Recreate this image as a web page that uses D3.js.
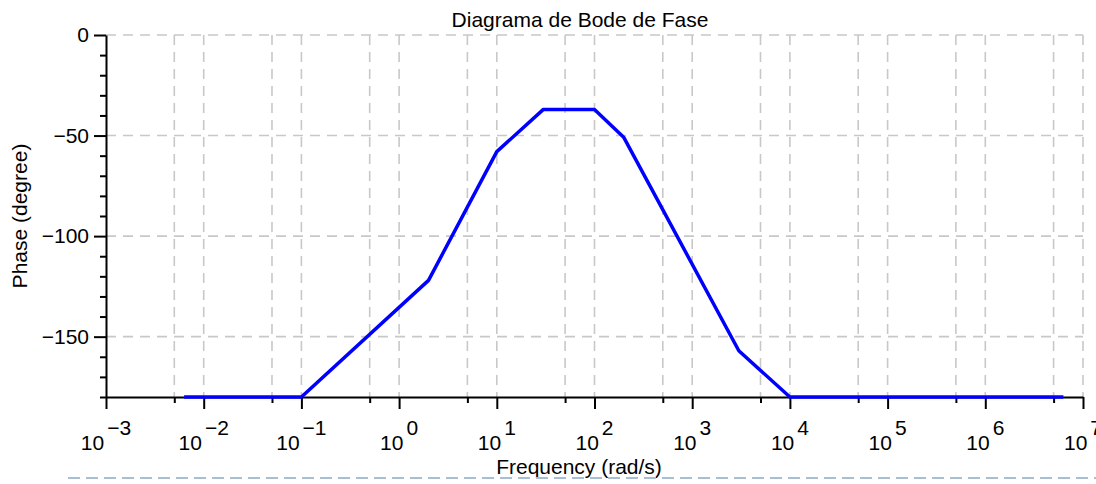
<!DOCTYPE html>
<html>
<head>
<meta charset="utf-8">
<script src="https://cdn.jsdelivr.net/npm/d3@7"></script>
<style>
  body { margin: 0; background: #fff; }
  text { font-family: "Liberation Sans", Arial, sans-serif; fill: #000; }
  .grid line { stroke: #c8c8c8; stroke-width: 1.6; stroke-dasharray: 10,7; }
  .axis path, .axis line { stroke: #000; stroke-width: 2; }
</style>
</head>
<body>
<div id="chart-area"></div>
<script>
// Phase curve (asymptotic Bode phase)
var freq  = [0.0063, 0.1, 2, 10, 30, 100, 200, 3000, 10000, 6.3e6];
var phase = [-180, -180, -122, -58, -37, -37, -51, -157, -180, -180];

// Tick values
var decades = [1e-3, 1e-2, 1e-1, 1e0, 1e1, 1e2, 1e3, 1e4, 1e5, 1e6, 1e7];
var exponents = [-3, -2, -1, 0, 1, 2, 3, 4, 5, 6, 7];
var halfDecades = [5e-3, 5e-2, 5e-1, 5e0, 5e1, 5e2, 5e3, 5e4, 5e5, 5e6];
var yMajor = [0, -50, -100, -150];
var yMinor = [-10, -20, -30, -40, -60, -70, -80, -90, -110, -120, -130, -140, -160, -170, -180];

var W = 1096, H = 484;
var plotL = 106, plotR = 1083, plotT = 35, plotB = 397;

var svg = d3.select("#chart-area")
    .append("svg")
    .attr("width", W)
    .attr("height", H);

var x = d3.scaleLog().domain([1e-3, 1e7]).range([plotL, plotR]);
var y = d3.scaleLinear().domain([-180, 0]).range([plotB, plotT]);

// Grid
var grid = svg.append("g").attr("class", "grid");
grid.selectAll(".vg")
    .data(decades.slice(1).concat(halfDecades))
    .enter().append("line")
    .attr("x1", d => x(d)).attr("x2", d => x(d))
    .attr("y1", plotT).attr("y2", plotB);
grid.selectAll(".hg")
    .data(yMajor)
    .enter().append("line")
    .attr("x1", plotL).attr("x2", plotR)
    .attr("y1", d => y(d)).attr("y2", d => y(d));

// X axis: major and minor ticks
svg.append("g")
    .attr("class", "axis")
    .attr("transform", "translate(0," + plotB + ")")
    .call(d3.axisBottom(x).tickValues(decades).tickSize(12).tickSizeOuter(0).tickFormat(""));
svg.append("g")
    .attr("class", "axis")
    .attr("transform", "translate(0," + plotB + ")")
    .call(d3.axisBottom(x).tickValues(halfDecades).tickSize(6).tickSizeOuter(0).tickFormat(""))
    .select(".domain").remove();

// Y axis
svg.append("g")
    .attr("class", "axis")
    .attr("transform", "translate(" + plotL + ",0)")
    .call(d3.axisLeft(y).tickValues(yMajor).tickSize(12).tickSizeOuter(0).tickFormat(""));
svg.append("g")
    .attr("class", "axis")
    .attr("transform", "translate(" + plotL + ",0)")
    .call(d3.axisLeft(y).tickValues(yMinor).tickSize(6).tickSizeOuter(0).tickFormat(""))
    .select(".domain").remove();

// Y tick labels
svg.selectAll(".ylab")
    .data(yMajor)
    .enter().append("text")
    .attr("x", plotL - 17)
    .attr("y", d => y(d))
    .attr("dy", "0.35em")
    .attr("text-anchor", "end")
    .style("font-size", "21px")
    .text(d => d === 0 ? "0" : "\u2212" + Math.abs(d));

// X tick labels: 10 with superscript exponent
var xl = svg.selectAll(".xlab")
    .data(decades)
    .enter().append("text")
    .attr("x", d => x(d))
    .attr("y", 450)
    .attr("text-anchor", "middle")
    .style("font-size", "21px");
xl.append("tspan").text("10");
xl.append("tspan")
    .attr("dx", 3)
    .attr("dy", -15)
    .text((d, i) => exponents[i] < 0 ? "\u2212" + Math.abs(exponents[i]) : exponents[i]);

// Phase curve
var line = d3.line()
    .x((d, i) => x(freq[i]))
    .y((d, i) => y(phase[i]));
svg.append("path")
    .datum(freq)
    .attr("d", line)
    .attr("fill", "none")
    .attr("stroke", "#0000ff")
    .attr("stroke-width", 3.5)
    .attr("stroke-linejoin", "round");

// Title and axis labels
svg.append("text")
    .attr("x", 580)
    .attr("y", 27)
    .attr("text-anchor", "middle")
    .style("font-size", "21px")
    .text("Diagrama de Bode de Fase");

svg.append("text")
    .attr("x", 579)
    .attr("y", 474)
    .attr("text-anchor", "middle")
    .style("font-size", "21px")
    .text("Frequency (rad/s)");

svg.append("text")
    .attr("transform", "rotate(-90)")
    .attr("x", -216)
    .attr("y", 27)
    .attr("text-anchor", "middle")
    .style("font-size", "21px")
    .text("Phase (degree)");

// Page separator below the figure
svg.append("line")
    .attr("x1", 68).attr("x2", W)
    .attr("y1", 478).attr("y2", 478)
    .attr("stroke", "#a7bed3")
    .attr("stroke-width", 2)
    .attr("stroke-dasharray", "12,6");
</script>
</body>
</html>
